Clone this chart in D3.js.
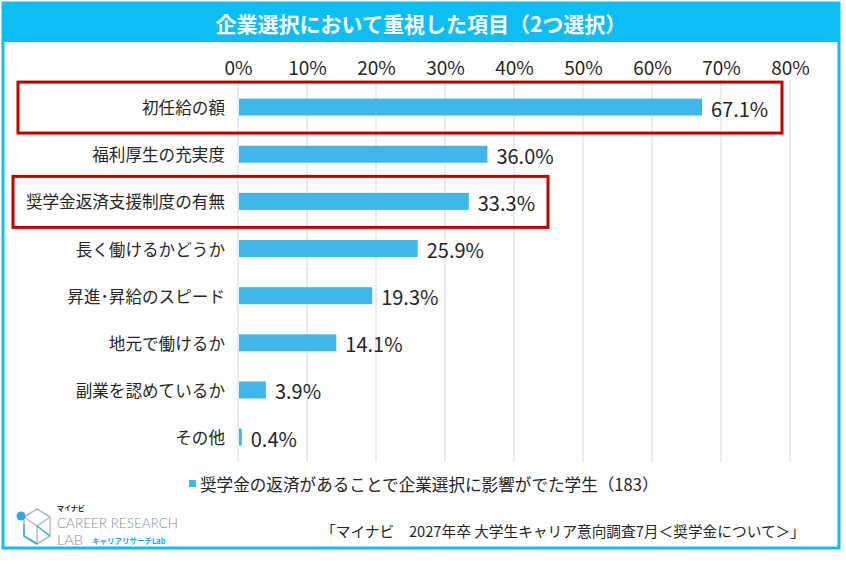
<!DOCTYPE html>
<html>
<head>
<meta charset="utf-8">
<script src="https://cdn.jsdelivr.net/npm/d3@7"></script>
<style>
  body { margin: 0; background: #fff; }
  svg { display: block; font-family: "Noto Sans CJK JP", "Noto Sans", sans-serif; }
</style>
</head>
<body>
<svg id="chart" width="846" height="564"></svg>
<script>
// data
var categories = ["初任給の額", "福利厚生の充実度", "奨学金返済支援制度の有無", "長く働けるかどうか",
                  "昇進･昇給のスピード", "地元で働けるか", "副業を認めているか", "その他"];
var values = [67.1, 36.0, 33.3, 25.9, 19.3, 14.1, 3.9, 0.4];
var tickValues = [0, 10, 20, 30, 40, 50, 60, 70, 80];
var highlighted = ["初任給の額", "奨学金返済支援制度の有無"];
var seriesName = "奨学金の返済があることで企業選択に影響がでた学生（183）";
var title = "企業選択において重視した項目（2つ選択）";
var source = "「マイナビ　2027年卒 大学生キャリア意向調査7月＜奨学金について＞」";

var blue = "#0dbdf5";
var barColor = "#41b6e8";

var svg = d3.select("#chart");

// outer frame + title band
svg.append("rect")
    .attr("x", 3).attr("y", 3).attr("width", 836).attr("height", 545)
    .attr("fill", "#fff").attr("stroke", blue).attr("stroke-width", 3);
svg.append("rect")
    .attr("x", 3).attr("y", 3).attr("width", 836).attr("height", 39)
    .attr("fill", blue);
svg.append("text")
    .attr("x", 421).attr("y", 23)
    .attr("text-anchor", "middle").attr("dominant-baseline", "central")
    .attr("fill", "#fff").attr("font-weight", "bold").attr("font-size", 21)
    .text(title);

var x = d3.scaleLinear().domain([0, 80]).range([238, 790]);
var y = d3.scaleBand().domain(categories).range([83.5, 460.7])
    .paddingInner(0.64).paddingOuter(0.32);

// gridlines
svg.append("g").selectAll("line")
    .data(tickValues)
    .enter().append("line")
    .attr("x1", function(d) { return x(d); })
    .attr("x2", function(d) { return x(d); })
    .attr("y1", 80).attr("y2", 462)
    .attr("stroke", "#d9d9d9").attr("stroke-width", 1);

// top axis labels
var axis = svg.append("g")
    .attr("transform", "translate(0,66)")
    .call(d3.axisTop(x).tickValues(tickValues).tickSize(0).tickPadding(0)
        .tickFormat(function(d) { return d + "%"; }));
axis.select(".domain").remove();
axis.selectAll("text")
    .attr("dominant-baseline", "central").attr("dy", null)
    .attr("font-size", 19).attr("fill", "#262626")
    .style("font-family", "\"Noto Sans CJK JP\", sans-serif");

// bars
svg.append("g").selectAll("rect")
    .data(values)
    .enter().append("rect")
    .attr("x", x(0) + 1)
    .attr("y", function(d, i) { return y(categories[i]); })
    .attr("width", function(d) { return Math.max(x(d) - x(0), 1.5); })
    .attr("height", y.bandwidth())
    .attr("fill", barColor);

// value labels
svg.append("g").selectAll("text")
    .data(values)
    .enter().append("text")
    .attr("x", function(d) { return x(d) + 10; })
    .attr("y", function(d, i) { return y(categories[i]) + y.bandwidth() / 2 + 1; })
    .attr("dominant-baseline", "central")
    .attr("font-size", 20).attr("fill", "#262626")
    .text(function(d) { return d.toFixed(1) + "%"; });

// category labels
svg.append("g").selectAll("text")
    .data(categories)
    .enter().append("text")
    .attr("x", 225)
    .attr("y", function(d) { return y(d) + y.bandwidth() / 2; })
    .attr("text-anchor", "end").attr("dominant-baseline", "central")
    .attr("font-size", 16.6).attr("fill", "#262626")
    .text(function(d) { return d; });

// red highlight boxes
var boxX = { "初任給の額": [18, 782], "奨学金返済支援制度の有無": [13, 548] };
svg.append("g").selectAll("rect")
    .data(highlighted)
    .enter().append("rect")
    .attr("x", function(d) { return boxX[d][0]; })
    .attr("width", function(d) { return boxX[d][1] - boxX[d][0]; })
    .attr("y", function(d) { return y(d) + y.bandwidth() / 2 - 25; })
    .attr("height", 51)
    .attr("fill", "none").attr("stroke", "#c00000").attr("stroke-width", 3);

// legend
svg.append("rect")
    .attr("x", 189).attr("y", 480).attr("width", 7).attr("height", 7)
    .attr("fill", barColor);
svg.append("text")
    .attr("x", 200).attr("y", 484)
    .attr("dominant-baseline", "central")
    .attr("font-size", 16.6).attr("fill", "#262626")
    .text(seriesName);

// source
svg.append("text")
    .attr("x", 805).attr("y", 530)
    .attr("text-anchor", "end").attr("dominant-baseline", "central")
    .attr("font-size", 14.7).attr("fill", "#262626")
    .text(source);

// logo
var logo = svg.append("g");
logo.append("path")
    .attr("d", "M24,517 L37,509 L50,517 L50,536 L37,544 L24,536 Z M24,517 L37,526 L50,517 M37,526 L37,544")
    .attr("fill", "none").attr("stroke", "#b8bcc0").attr("stroke-width", 1.5);
logo.append("path")
    .attr("d", "M24,524 L24,536 L37,544 M37,526 L50,536")
    .attr("fill", "none").attr("stroke", "#3aa8dc").attr("stroke-width", 1.5);
logo.append("circle")
    .attr("cx", 21).attr("cy", 516).attr("r", 4.5)
    .attr("fill", "#2fa6e0");
logo.append("text")
    .attr("x", 57).attr("y", 508)
    .attr("dominant-baseline", "central")
    .attr("font-size", 7).attr("font-weight", "bold").attr("fill", "#222")
    .text("マイナビ");
logo.append("text")
    .attr("x", 57).attr("y", 523)
    .attr("dominant-baseline", "central")
    .attr("font-size", 13).attr("font-weight", 300).attr("fill", "#8a8d90")
    .attr("textLength", 121).attr("lengthAdjust", "spacingAndGlyphs")
    .style("font-family", "Lato, sans-serif")
    .text("CAREER RESEARCH");
logo.append("text")
    .attr("x", 57).attr("y", 540)
    .attr("dominant-baseline", "central")
    .attr("font-size", 13).attr("font-weight", 300).attr("fill", "#8a8d90")
    .attr("textLength", 26).attr("lengthAdjust", "spacingAndGlyphs")
    .style("font-family", "Lato, sans-serif")
    .text("LAB");
logo.append("text")
    .attr("x", 92).attr("y", 540)
    .attr("dominant-baseline", "central")
    .attr("font-size", 7.5).attr("font-weight", "bold").attr("fill", "#2fa6e0")
    .text("キャリアリサーチLab");
</script>
</body>
</html>
